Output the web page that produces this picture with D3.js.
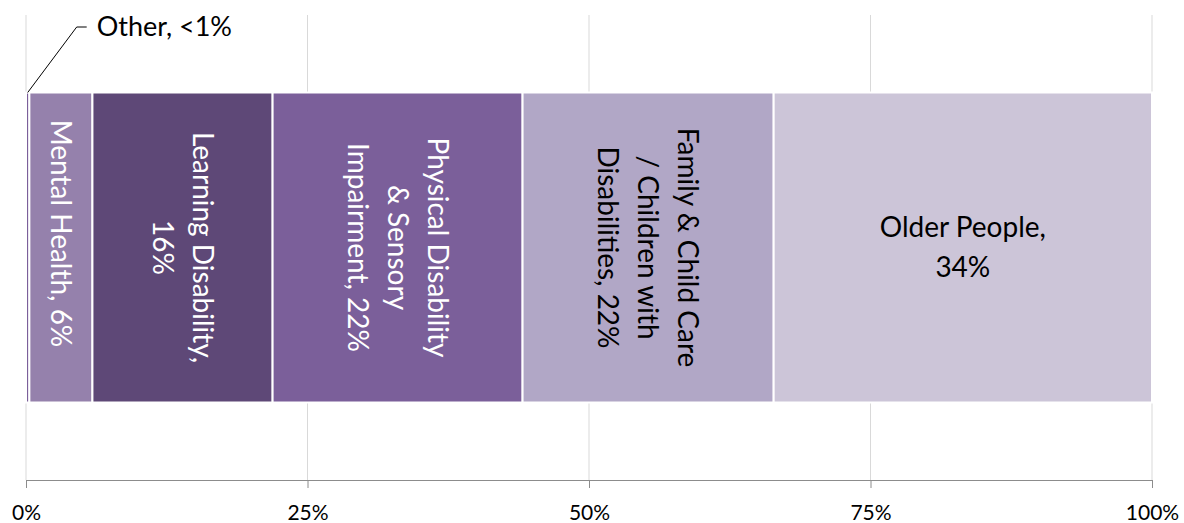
<!DOCTYPE html>
<html>
<head>
<meta charset="utf-8">
<script src="https://cdn.jsdelivr.net/npm/d3@7"></script>
<style>
  html, body { margin: 0; padding: 0; background: #fff; }
  svg { display: block; }
  text { font-family: Lato, "Open Sans", sans-serif; }
</style>
</head>
<body>
<svg id="chart" width="1184" height="523"></svg>
<script>
// ---- data ----
const categories = ["Other", "Mental Health", "Learning Disability",
  "Physical Disability & Sensory Impairment",
  "Family & Child Care / Children with Disabilities", "Older People"];
const values = [0.3, 5.6, 16.0, 22.2, 22.3, 33.6];
const labelLines = [
  ["Other, <1%"],
  ["Mental Health, 6%"],
  ["Learning Disability,", "16%"],
  ["Physical Disability", "& Sensory", "Impairment, 22%"],
  ["Family & Child Care", "/ Children with", "Disabilities, 22%"],
  ["Older People,", "34%"]
];
const tickValues = [0, 25, 50, 75, 100];
const tickLabels = ["0%", "25%", "50%", "75%", "100%"];

// ---- styles ----
const colors = ["#7b5f9a", "#9581ac", "#5e4877", "#7b5f9a", "#b1a7c6", "#ccc5d8"];
const textColors = ["#000", "#fff", "#fff", "#fff", "#000", "#000"];
const rotated = [false, true, true, true, true, false];
const labelShift = [0, -14, 0, 0, 0, 0]; // vertical nudge (px) of label centre

const svg = d3.select("#chart");
const margin = { left: 26, right: 32, top: 15, bottom: 43 };
const W = 1184, H = 523;

const x = d3.scaleLinear().domain([0, 100]).range([margin.left, W - margin.right]);
const y = d3.scaleBand().domain(["Total"]).range([margin.top, H - margin.bottom]).padding(0.2);

// gridlines
svg.append("g").selectAll("line").data(tickValues).join("line")
  .attr("x1", d => x(d)).attr("x2", d => x(d))
  .attr("y1", margin.top).attr("y2", H - margin.bottom)
  .attr("stroke", "#d9d9d9").attr("stroke-width", 1);

// axis
const axis = d3.axisBottom(x).tickValues(tickValues)
  .tickFormat((d, i) => tickLabels[i]).tickSizeOuter(0).tickSize(8).tickPadding(17);
const gAxis = svg.append("g").attr("transform", `translate(0,${H - margin.bottom})`).call(axis);
gAxis.select(".domain").attr("stroke", "#8c8c8c").attr("stroke-width", 1);
gAxis.selectAll(".tick line").attr("stroke", "#8c8c8c");
gAxis.selectAll(".tick text").attr("font-size", 21).attr("fill", "#000")
  .attr("font-family", "Lato, 'Open Sans', sans-serif");

// stacked segments
let acc = 0;
const segs = values.map((v, i) => { const s = { i, x0: acc, x1: acc + v, v }; acc += v; return s; });

svg.append("g").selectAll("rect").data(segs).join("rect")
  .attr("x", d => x(d.x0)).attr("width", d => x(d.x1) - x(d.x0))
  .attr("y", y("Total")).attr("height", y.bandwidth())
  .attr("fill", d => colors[d.i]).attr("stroke", "#fff").attr("stroke-width", 2);

const fs = 28, lh = 40;
const cy = y("Total") + y.bandwidth() / 2;
const labels = svg.append("g");
segs.forEach(d => {
  if (d.i === 0) return;
  const cx = (x(d.x0) + x(d.x1)) / 2;
  const lines = labelLines[d.i];
  const n = lines.length;
  const ty = cy + labelShift[d.i];
  const g = labels.append("g")
    .attr("transform", rotated[d.i] ? `translate(${cx},${ty}) rotate(90)` : `translate(${cx},${ty})`);
  g.selectAll("text").data(lines).join("text")
    .attr("x", 0)
    .attr("y", (t, k) => (k - (n - 1) / 2) * lh)
    .attr("dy", "0.35em")
    .attr("text-anchor", "middle")
    .attr("font-size", fs)
    .attr("fill", textColors[d.i])
    .text(t => t);
});

// callout for "Other"
const o = segs[0];
const ox = (x(o.x0) + x(o.x1)) / 2;
const oy = y("Total");
const elbowY = 27;
svg.append("path")
  .attr("d", `M${ox},${oy} L${ox + 49},${elbowY} L${ox + 59},${elbowY}`)
  .attr("fill", "none").attr("stroke", "#000").attr("stroke-width", 1);
svg.append("text")
  .attr("x", ox + 69).attr("y", elbowY).attr("dy", "0.35em")
  .attr("font-size", 27).attr("fill", "#000")
  .text(labelLines[0][0]);
</script>
</body>
</html>
